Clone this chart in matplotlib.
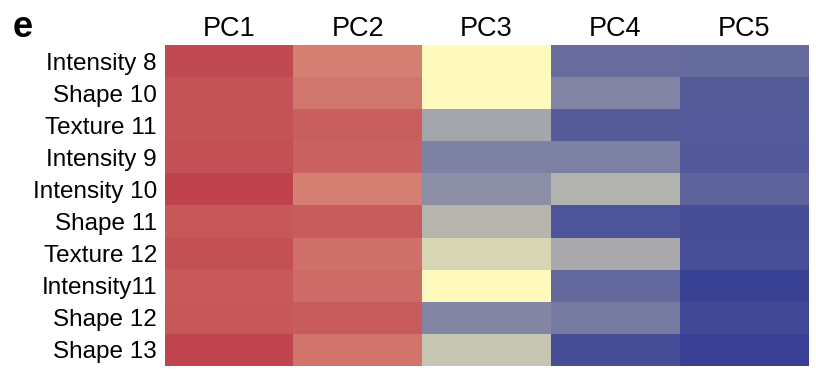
import numpy as np
import matplotlib
matplotlib.use("Agg")
import matplotlib.pyplot as plt
from matplotlib.colors import LinearSegmentedColormap

plt.rcParams["font.family"] = ["Liberation Sans", "DejaVu Sans"]

features = ["Intensity 8", "Shape 10", "Texture 11", "Intensity 9", "Intensity 10",
            "Shape 11", "Texture 12", "Intensity11", "Shape 12", "Shape 13"]
components = ["PC1", "PC2", "PC3", "PC4", "PC5"]

# loadings per component, one value per feature (same order as features)
pc1 = [0.92, 0.86, 0.86, 0.875, 0.96, 0.84, 0.875, 0.83, 0.84, 0.94]
pc2 = [0.64, 0.68, 0.81, 0.79, 0.64, 0.82, 0.71, 0.74, 0.82, 0.69]
pc3 = [0.0, 0.0, -0.44, -0.64, -0.57, -0.36, -0.19, 0.0, -0.61, -0.28]
pc4 = [-0.74, -0.62, -0.83, -0.64, -0.38, -0.87, -0.42, -0.76, -0.67, -0.91]
pc5 = [-0.75, -0.83, -0.84, -0.85, -0.79, -0.91, -0.90, -0.97, -0.93, -0.98]

loadings = np.array([pc1, pc2, pc3, pc4, pc5]).T

cmap = LinearSegmentedColormap.from_list(
    "blue_yellow_red", ["#353D94", "#FFFABE", "#BC3A48"])

fig = plt.figure(figsize=(8.16, 3.71), dpi=100)
ax = fig.add_axes([0.2022, 0.0135, 0.788, 0.8652])

ax.imshow(loadings, cmap=cmap, vmin=-1, vmax=1, aspect="auto",
          interpolation="nearest")

ax.set_xticks(range(len(components)))
ax.set_xticklabels(components, fontsize=19.5)
ax.xaxis.tick_top()
ax.set_yticks(range(len(features)))
ax.set_yticklabels(features, fontsize=17.5)
ax.tick_params(length=0)
ax.tick_params(axis="y", pad=5.8)
ax.tick_params(axis="x", pad=2.5)
for spine in ax.spines.values():
    spine.set_visible(False)

fig.text(0.016, 1 - 37 / 371, "e", fontsize=26, fontweight="bold",
         va="baseline", ha="left")

fig.savefig("out.png", dpi=100)
